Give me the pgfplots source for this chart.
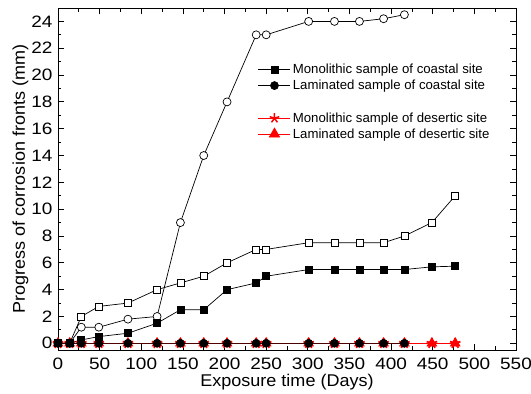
\documentclass[border=0pt]{standalone}
\usepackage{pgfplots}
\pgfplotsset{compat=1.18}
\usepackage{fontspec}
\setmainfont{Liberation Sans}
\newfontfamily\tickfont[FakeStretch=1.15]{Liberation Sans}
\newfontfamily\labfont[FakeStretch=1.06]{Liberation Sans}
\begin{document}
\begin{tikzpicture}
\useasboundingbox (-58pt,-44pt) rectangle (473pt,350pt);
\begin{axis}[
  at={(0pt,0pt)}, anchor=south west,
  scale only axis,
  width=458pt, height=342pt,
  xmin=0, xmax=550, ymin=-0.5, ymax=25,
  xtick={0,50,...,550}, ytick={0,2,...,24},
  minor x tick num=1, minor y tick num=1,
  tick align=inside,
  major tick length=6pt, minor tick length=3.5pt,
  axis line style={line width=0.9pt},
  every tick/.style={line width=0.8pt, black},
  tick label style={font=\tickfont\fontsize{16.5}{18}\selectfont},
  xticklabel style={yshift=-4pt},
  yticklabel style={xshift=-2pt},
  /pgf/number format/assume math mode=true,
  xlabel={Exposure time (Days)},
  ylabel={Progress of corrosion fronts (mm)},
  label style={font=\labfont\fontsize{17}{19}\selectfont},
  xlabel style={yshift=2pt},
  ylabel style={yshift=-4pt},
  clip=false,
  legend style={draw=none, fill=none, at={(0.43,0.848)}, anchor=north west,
    font=\fontsize{13.2}{15}\selectfont, row sep=0.8pt,
    legend cell align=left},
  legend image code/.code={\draw[mark repeat=2,mark phase=2,#1] plot coordinates {(0pt,0pt) (16pt,0pt) (32pt,0pt)};},
]
% legend-only images
\addlegendimage{black, line width=0.7pt, mark=square*, mark size=3.5pt, mark options={fill=black}}
\addlegendentry{Monolithic sample of coastal site}
\addlegendimage{black, line width=0.7pt, mark=*, mark size=4pt, mark options={fill=black}}
\addlegendentry{Laminated sample of coastal site}
\addlegendimage{empty legend}
\addlegendentry{\strut}
\addlegendimage{red, line width=0.7pt, mark=star, mark size=5pt, mark options={line width=1.5pt}}
\addlegendentry{Monolithic sample of desertic site}
\addlegendimage{red, line width=0.7pt, mark=triangle*, mark size=6pt, mark options={fill=red}}
\addlegendentry{Laminated sample of desertic site}

% red desertic series
\addplot[red, line width=0.8pt, mark=triangle*, mark size=5.5pt, mark options={fill=red}, forget plot] coordinates {
(0,0)(14,0)(28,0)(49,0)(84,0)(119,0)(147,0)(175,0)(203,0)(238,0)(250,0)(301,0)(332,0)(362,0)(391,0)(416,0)(449,0)(477,0)};
\addplot[red, line width=0.8pt, mark=star, mark size=5.5pt, mark options={line width=1.8pt}, forget plot] coordinates {
(0,0)(14,0)(28,0)(49,0)(84,0)(119,0)(147,0)(175,0)(203,0)(238,0)(250,0)(301,0)(332,0)(362,0)(391,0)(416,0)(449,0)(477,0)};

% open squares
\addplot[black, line width=0.7pt, mark=square*, mark size=3.5pt, mark options={fill=white}, forget plot] coordinates {
(0,0)(14,0)(28,2)(49,2.75)(84,3)(119,4)(147,4.5)(175,5)(203,6)(238,7)(250,7)(301,7.5)(332,7.5)(362,7.5)(391,7.5)(416,8)(449,9)(477,11)};
% open circles
\addplot[black, line width=0.7pt, mark=*, mark size=4pt, mark options={fill=white}, forget plot] coordinates {
(0,0)(14,0)(28,1.2)(49,1.2)(84,1.8)(119,2)(147,9)(175,14)(203,18)(238,23)(250,23)(301,24)(332,24)(362,24)(391,24.2)(416,24.5)};
% filled squares
\addplot[black, line width=0.7pt, mark=square*, mark size=3.5pt, mark options={fill=black}, forget plot] coordinates {
(0,0)(14,0)(28,0.25)(49,0.5)(84,0.75)(119,1.5)(147,2.5)(175,2.5)(203,4)(238,4.5)(250,5)(301,5.5)(332,5.5)(362,5.5)(391,5.5)(416,5.5)(449,5.7)(477,5.75)};
% filled circles
\addplot[black!70!red, line width=0.7pt, mark=*, mark size=4pt, mark options={fill=black, draw=black}, forget plot] coordinates {
(0,0)(14,0)(28,0)(49,0)(84,0)(119,0)(147,0)(175,0)(203,0)(238,0)(250,0)(301,0)(332,0)(362,0)(391,0)(416,0)};
\end{axis}
\end{tikzpicture}
\end{document}
